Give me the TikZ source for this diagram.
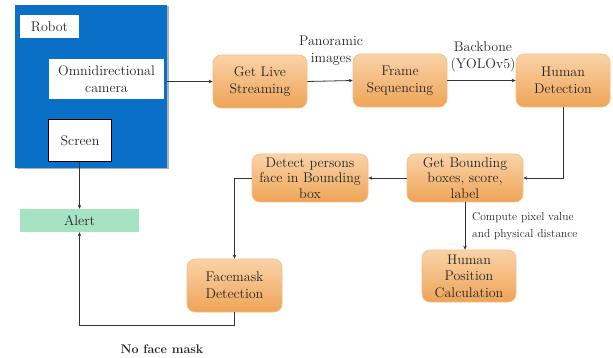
\documentclass[tikz,border=0pt]{standalone}
\usetikzlibrary{arrows.meta,shadows}
\definecolor{robotblue}{HTML}{0A6FC6}
\definecolor{orangetop}{HTML}{FAD3A8}
\definecolor{orangebot}{HTML}{EEA457}
\definecolor{orangeedge}{HTML}{F2BE86}
\definecolor{alertgreen}{HTML}{A6E3C3}
\begin{document}
\begin{tikzpicture}[x=1pt,y=-1pt,
  font=\fontsize{14}{17}\selectfont,
  procbox/.style={rectangle, rounded corners=8pt, draw=orangeedge, line width=0.6pt,
    top color=orangetop, bottom color=orangebot, align=center, text=black!85,
    inner sep=1pt},
  whitebox/.style={rectangle, fill=white, align=center, inner sep=1pt, text=black!85},
  conn/.style={draw=black!80, line width=0.8pt},
  arr/.style={conn, -{Stealth[length=4pt,width=3.5pt]}},
  lbl/.style={align=center, text=black!85, inner sep=0pt}
]
\useasboundingbox (0,0) rectangle (613,358);
% robot block
\node[rectangle, fill=robotblue, minimum width=152pt, minimum height=163pt,
  drop shadow={shadow xshift=1.5pt,shadow yshift=-1.5pt,fill=black!60,opacity=0.5}] (robot) at (91,86.5) {};
\node[whitebox, minimum width=59pt, minimum height=23pt] (robotlbl) at (49.5,26.5) {Robot};
\node[whitebox, minimum width=115pt, minimum height=40pt] (omni) at (106.5,79) {Omnidirectional\\camera};
\node[whitebox, draw=black, line width=1.6pt, minimum width=63pt, minimum height=42pt] (screen) at (80,140.5) {Screen};
% process boxes
\node[procbox, minimum width=94pt, minimum height=53pt] (live) at (260,81.5) {Get Live\\Streaming};
\node[procbox, minimum width=94pt, minimum height=53pt] (frame) at (400,80.5) {Frame\\Sequencing};
\node[procbox, minimum width=94pt, minimum height=53pt] (human) at (563,80.5) {Human\\Detection};
\node[procbox, minimum width=116pt, minimum height=48pt, font=\fontsize{14}{15.5}\selectfont] (bbox) at (465,178) {Get Bounding\\boxes, score,\\label};
\node[procbox, minimum width=116pt, minimum height=48pt, font=\fontsize{14}{15.5}\selectfont] (face) at (310,178) {Detect persons\\face in Bounding\\box};
\node[procbox, minimum width=95pt, minimum height=53pt] (mask) at (234.5,285.5) {Facemask\\Detection};
\node[procbox, minimum width=94pt, minimum height=52pt, font=\fontsize{14}{16.5}\selectfont] (pos) at (469,276) {Human\\Position\\Calculation};
\node[rectangle, fill=alertgreen, minimum width=119pt, minimum height=23pt, text=black!85] (alert) at (79.5,220.5) {Alert};
% labels
\node[lbl] (panlbl) at (331,51) {Panoramic\\images};
\node[lbl] (backlbl) at (483,57) {Backbone\\(YOLOv5)};
\node[lbl, anchor=west, align=left, font=\fontsize{11.5}{17.5}\selectfont] (complbl) at (472,226) {Compute pixel value\\and physical distance};
\node[lbl, font=\fontsize{12.5}{14}\selectfont\bfseries] (nomask) at (162,349) {No face mask};
% connectors
\coordinate (bend) at (235,325);
\draw[arr] (live.west -| robot.east) -- (live.west);
\draw[arr] (live.east) -- (frame.west);
\draw[arr] (frame.east) -- (human.west);
\draw[arr] (human.south) |- (bbox.east);
\draw[arr] (bbox.west) -- (face.east);
\draw[arr] (face.west) -| (mask.north);
\draw[arr] (bbox.south) -- (bbox.south |- pos.north);
\draw[arr] (screen.south -| alert.north) -- (alert.north);
\draw[arr] (mask.south) -- (mask.south |- bend) -| (alert.south);
\end{tikzpicture}
\end{document}
